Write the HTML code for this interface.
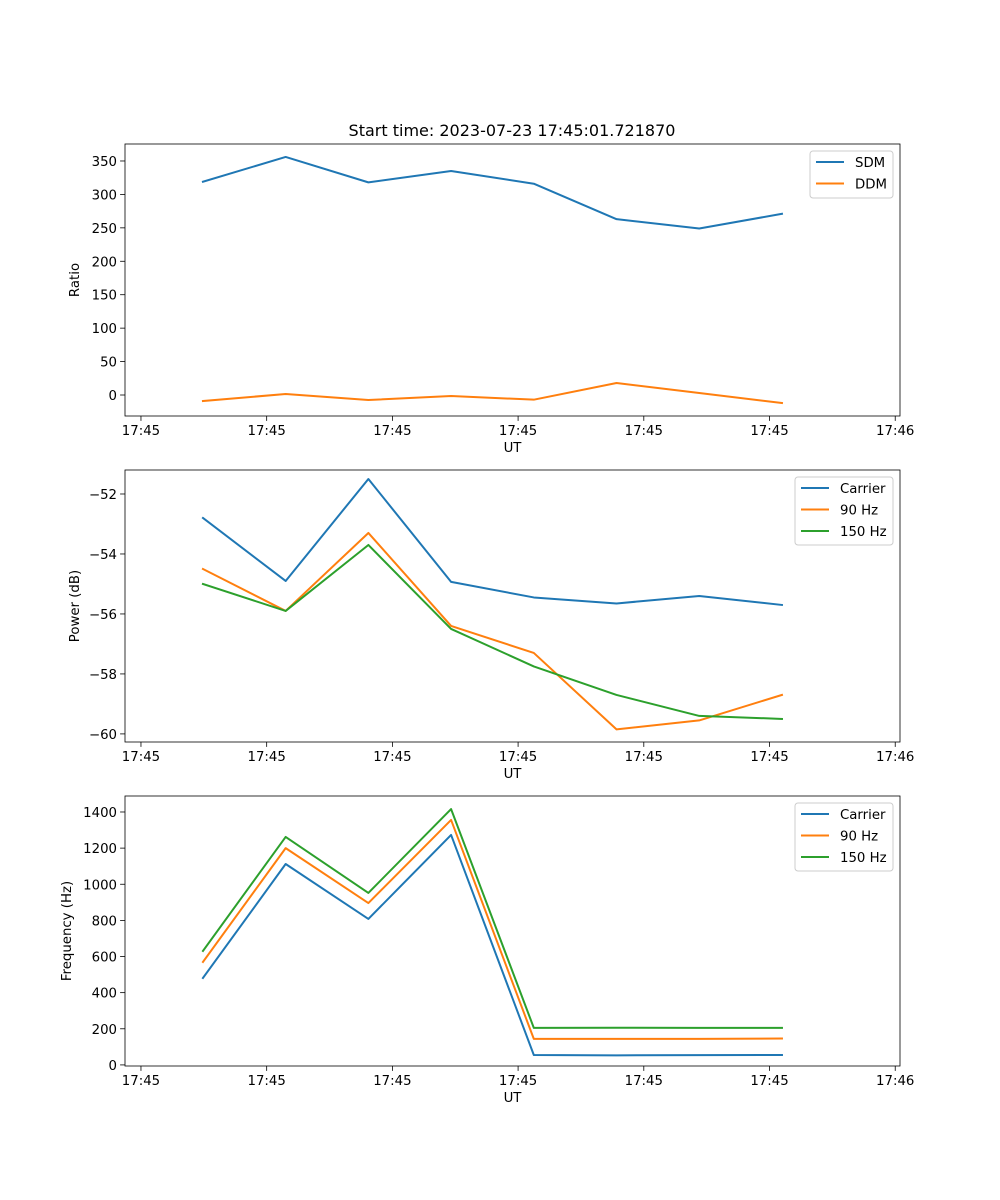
<!DOCTYPE html>
<html><head><meta charset="utf-8"><style>
body{margin:0;background:#fff;}
svg{display:block;font-family:"DejaVu Sans","Liberation Sans",sans-serif;}
</style></head><body>
<svg id="fig" width="1000" height="1200" xmlns="http://www.w3.org/2000/svg"></svg>
<script>
// shared x data: seconds after 17:45:00
const times = [4.93, 11.51, 18.09, 24.67, 31.25, 37.83, 44.41, 50.99];
const xTickVals = [0, 10, 20, 30, 40, 50, 60];
const xTickLabels = ["17:45","17:45","17:45","17:45","17:45","17:45","17:46"];
// panel 1
const sdm = [319, 356, 318, 335, 316, 263, 249, 271];
const ddm = [-9, 1.5, -7.5, -1.5, -7, 18, 3, -12];
const ratioTicks = [0, 50, 100, 150, 200, 250, 300, 350];
// panel 2
const powCarrier = [-52.8, -54.9, -51.5, -54.93, -55.45, -55.65, -55.4, -55.7];
const pow90 = [-54.5, -55.9, -53.3, -56.4, -57.3, -59.85, -59.55, -58.7];
const pow150 = [-55.0, -55.9, -53.7, -56.5, -57.75, -58.7, -59.4, -59.5];
const powTicks = [-60, -58, -56, -54, -52];
// panel 3
const freqCarrier = [481, 1112, 808, 1273, 55, 53, 54, 55];
const freq90 = [570, 1200, 896, 1356, 144, 144, 144, 146];
const freq150 = [631, 1262, 952, 1416, 205, 206, 205, 205];
const freqTicks = [0, 200, 400, 600, 800, 1000, 1200, 1400];

const NS = "http://www.w3.org/2000/svg";
const svg = document.getElementById("fig");
function mk(tag, attrs, parent){const e=document.createElementNS(NS,tag);for(const k in attrs)e.setAttribute(k,attrs[k]);(parent||svg).appendChild(e);return e;}
const L=125,R=900,xmin=-1.27,xmax=60.38;
const xs=v=>L+(v-xmin)/(xmax-xmin)*(R-L);
const C={b:"#1f77b4",o:"#ff7f0e",g:"#2ca02c"};
const FS=13.3;

function panel(name,top,bot,ymin,ymax,yticks,ylabel,series,legend){
  const g=mk("g",{});
  
  
  const ys=v=>bot-(v-ymin)/(ymax-ymin)*(bot-top);
  xTickVals.forEach((v,i)=>{
    const x=xs(v);
    mk("line",{x1:x,x2:x,y1:bot,y2:bot+4.9,stroke:"#000","stroke-width":0.8},g);
    const t=mk("text",{x:x,y:bot+19,"font-size":FS,"text-anchor":"middle"},g);
    t.textContent=xTickLabels[i];
    
    
  });
  yticks.forEach(v=>{
    const y=ys(v);
    mk("line",{x1:L-4.9,x2:L,y1:y,y2:y,stroke:"#000","stroke-width":0.8},g);
    const t=mk("text",{x:L-8,y:y+5,"font-size":FS,"text-anchor":"end"},g);
    t.textContent=(v<0?"\u2212"+(-v):String(v));
    
    
  });
  const xl=mk("text",{x:(L+R)/2,y:bot+36,"font-size":FS,"text-anchor":"middle"},g);
  xl.textContent="UT";
  
  
  const yl=mk("text",{x:0,y:0,"font-size":FS,"text-anchor":"middle",transform:`translate(${name==="frequency-panel"?71:79},${(top+bot)/2}) rotate(-90)`},g);
  yl.textContent=ylabel;
  
  
  series.forEach(s=>{
    const p=mk("polyline",{points:s.d.map((v,i)=>xs(times[i])+","+ys(v)).join(" "),fill:"none",stroke:s.c,"stroke-width":2,"stroke-linejoin":"round","stroke-linecap":"square"},g);
    
    
  });
  mk("rect",{x:L,y:top,width:R-L,height:bot-top,fill:"none",stroke:"#000","stroke-width":0.8},g);
  const lg=mk("g",{},g);
  
  
  mk("rect",{x:legend.x,y:top+7,width:legend.w,height:series.length*21+5,rx:3,fill:"#fff","fill-opacity":0.8,stroke:"#ccc"},lg);
  series.forEach((s,i)=>{
    const y=top+18+i*21.5;
    mk("line",{x1:legend.x+6,x2:legend.x+34,y1:y,y2:y,stroke:s.c,"stroke-width":2},lg);
    const t=mk("text",{x:legend.x+45,y:y+5,"font-size":FS},lg);
    t.textContent=s.l;
    
    
  });
}
const title=mk("text",{x:512,y:136,"font-size":16,"text-anchor":"middle"});
title.textContent="Start time: 2023-07-23 17:45:01.721870";



panel("ratio-panel",144,416,-31.4,375.4,ratioTicks,"Ratio",
 [{d:sdm,c:C.b,l:"SDM",n:"sdm-line"},{d:ddm,c:C.o,l:"DDM",n:"ddm-line"}],{x:810,w:83});
panel("power-panel",470,742,-60.27,-51.2,powTicks,"Power (dB)",
 [{d:powCarrier,c:C.b,l:"Carrier",n:"power-carrier-line"},{d:pow90,c:C.o,l:"90 Hz",n:"power-90hz-line"},{d:pow150,c:C.g,l:"150 Hz",n:"power-150hz-line"}],{x:795,w:98});
panel("frequency-panel",796,1066,-6,1488.5,freqTicks,"Frequency (Hz)",
 [{d:freqCarrier,c:C.b,l:"Carrier",n:"freq-carrier-line"},{d:freq90,c:C.o,l:"90 Hz",n:"freq-90hz-line"},{d:freq150,c:C.g,l:"150 Hz",n:"freq-150hz-line"}],{x:795,w:98});
</script>
</body></html>
